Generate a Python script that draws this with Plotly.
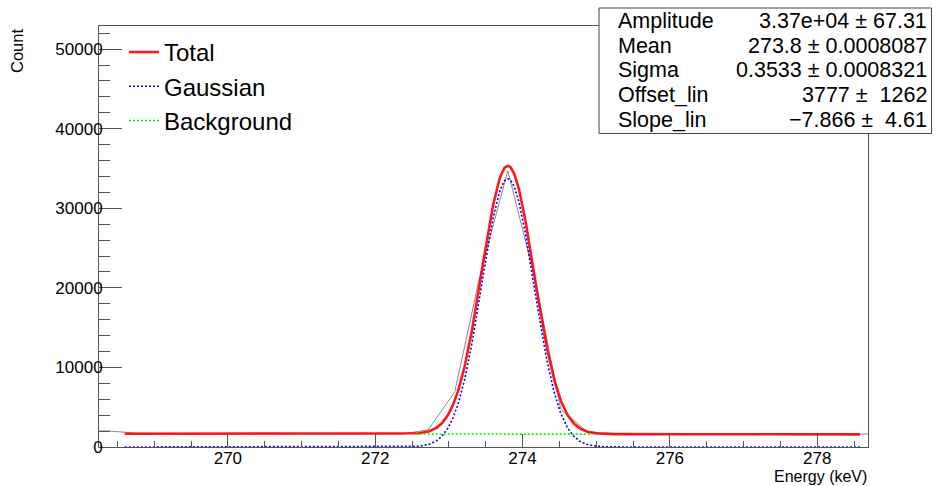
import numpy as np
import plotly.graph_objects as go

# ---------------- data ----------------
energy = [268.04, 268.40, 268.76, 269.12, 269.48, 269.84, 270.20, 270.56, 270.92,
          271.28, 271.64, 272.00, 272.36, 272.72, 273.08, 273.44, 273.80, 274.16,
          274.52, 274.88, 275.24, 275.60, 275.96, 276.32, 276.68, 277.04, 277.40,
          277.76, 278.12, 278.48, 278.84]
counts = [2050, 2000, 1740, 1660, 1630, 1640, 1620, 1650, 1630,
          1640, 1620, 1630, 1630, 2150, 6950, 22300, 34700, 21500,
          4700, 1900, 1700, 1610, 1620, 1600, 1610, 1600, 1610,
          1600, 1610, 1615, 1625]

# fit parameters (from the stats box)
amplitude = 3.37e4
mean = 273.8
sigma = 0.3533
offset_lin = 3777
slope_lin = -7.866
fit_range = [268.6, 278.58]
bkg_range = [272.55, 274.95]

stat_names = ["Amplitude", "Mean", "Sigma", "Offset_lin", "Slope_lin"]
stat_values = ["3.37e+04 \u00b1 67.31", "273.8 \u00b1 0.0008087", "0.3533 \u00b1 0.0008321",
               "3777 \u00b1  1262", "\u22127.866 \u00b1  4.61"]

# ---------------- curves from fit ----------------
xf = np.linspace(fit_range[0], fit_range[1], 800)
gaus = amplitude * np.exp(-0.5 * ((xf - mean) / sigma) ** 2)
bkg_f = offset_lin + slope_lin * xf
total = gaus + bkg_f
xb = np.linspace(bkg_range[0], bkg_range[1], 50)
bkg = offset_lin + slope_lin * xb

W, H = 948, 486
L, R, T, B = 99, 80, 26, 39
PW, PH = W - L - R, H - T - B

def px(x):
    return (x - L) / PW

def py(y):
    return (H - B - y) / PH

FONT = "Liberation Sans, Arial, Helvetica, sans-serif"
AX = "#555555"

fig = go.Figure()
fig.add_trace(go.Scatter(x=energy, y=counts, mode="lines",
                         line=dict(color="#8a8a8a", width=1), showlegend=False,
                         hoverinfo="skip"))
fig.add_trace(go.Scatter(x=xf, y=total, mode="lines", name="Total", legendgroup="a",
                         line=dict(color="#ff0000", width=2.6), opacity=0.9))
fig.add_trace(go.Scatter(x=xf, y=gaus, mode="lines", name="Gaussian", legendgroup="b",
                         line=dict(color="#0000ff", width=1.6, dash="2px,2px")))
fig.add_trace(go.Scatter(x=xb, y=bkg, mode="lines", name="Background", legendgroup="c",
                         line=dict(color="#00ee00", width=1.6, dash="2px,2px")))

fig.update_layout(
    width=W, height=H,
    margin=dict(l=L, r=R, t=T, b=B, pad=0),
    paper_bgcolor="white", plot_bgcolor="white",
    font=dict(family=FONT, size=17, color="black"),
    xaxis=dict(range=[268.25, 278.69], tick0=270, dtick=2, ticks="inside", ticklen=13,
               tickcolor=AX, showline=True, linecolor=AX, linewidth=1, mirror=True,
               showgrid=False, zeroline=False, ticklabelstandoff=-4,
               minor=dict(dtick=0.5, ticks="inside", ticklen=6, tickcolor=AX),
               tickfont=dict(size=17)),
    yaxis=dict(range=[0, 52900], tick0=0, dtick=10000, ticks="inside", ticklen=23,
               tickcolor=AX, showline=True, linecolor=AX, linewidth=1, mirror=True,
               showgrid=False, zeroline=False, tickformat="d", ticklabelstandoff=-8,
               minor=dict(dtick=2000, ticks="inside", ticklen=11, tickcolor=AX),
               tickfont=dict(size=17)),
    legend=dict(x=px(124), y=py(30), xanchor="left", yanchor="top",
                font=dict(size=24, family=FONT), bgcolor="rgba(0,0,0,0)",
                tracegroupgap=0, itemwidth=30),
    showlegend=True,
)

# stats box
fig.add_shape(type="rect", xref="paper", yref="paper",
              x0=px(599), x1=px(931.5), y0=py(133.5), y1=py(8),
              fillcolor="white", line=dict(color="#444444", width=1), layer="above")
rows_y = [20.8, 45.6, 70.4, 95.2, 120.0]
for name, val, yy in zip(stat_names, stat_values, rows_y):
    fig.add_annotation(xref="paper", yref="paper", x=px(616), y=py(yy), text=name,
                       showarrow=False, xanchor="left", yanchor="middle",
                       font=dict(size=21.5, family=FONT))
    fig.add_annotation(xref="paper", yref="paper", x=px(928.5), y=py(yy), text=val,
                       showarrow=False, xanchor="right", yanchor="middle",
                       font=dict(size=21.5, family=FONT))

# axis titles
fig.add_annotation(xref="paper", yref="paper", x=px(17), y=py(27), text="Count",
                   textangle=-90, showarrow=False, xanchor="center", yanchor="top",
                   font=dict(size=16.5, family=FONT))
fig.add_annotation(xref="paper", yref="paper", x=px(868), y=py(486), text="Energy (keV)",
                   showarrow=False, xanchor="right", yanchor="bottom", borderpad=0,
                   font=dict(size=16, family=FONT))

fig.write_html("out.html", post_script="document.body.style.margin='0';",
               config={"displayModeBar": False})
